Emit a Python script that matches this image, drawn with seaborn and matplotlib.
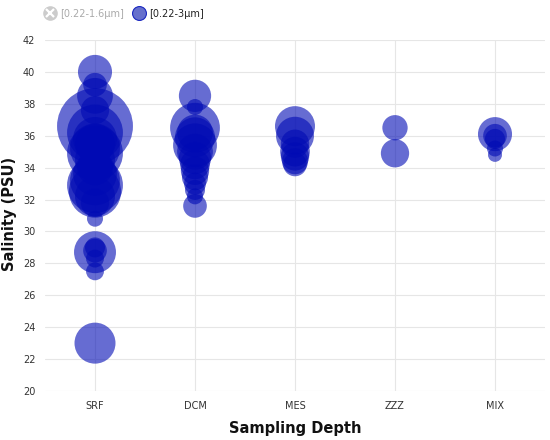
import numpy as np
import pandas as pd
import matplotlib
matplotlib.use("Agg")
import matplotlib.pyplot as plt
from matplotlib.lines import Line2D
from matplotlib.legend_handler import HandlerTuple
import seaborn as sns

categories = ["SRF", "DCM", "MES", "ZZZ", "MIX"]

srf_salinity = [40.0, 39.2, 38.5, 37.6, 36.6, 36.2, 35.8, 35.5, 35.2, 34.9, 34.5, 34.0,
                33.6, 33.2, 32.9, 32.5, 32.2, 31.8, 30.8, 29.0, 28.8, 28.7, 28.3, 27.5, 23.0]
srf_abund = [2.9, 1.4, 3.2, 2.0, 14.4, 7.8, 4.8, 4.0, 6.2, 7.8, 4.0, 3.2,
             4.8, 6.2, 7.8, 6.8, 4.0, 2.0, 0.64, 1.0, 1.4, 4.4, 0.8, 0.8, 4.2]

dcm_salinity = [38.5, 37.8, 36.5, 36.2, 35.9, 35.4, 35.0, 34.6, 34.2, 33.8, 33.4, 33.0, 32.6, 32.2, 31.6]
dcm_abund = [2.6, 0.64, 6.2, 3.2, 4.0, 4.8, 3.2, 2.6, 2.2, 2.0, 1.7, 1.2, 1.0, 0.64, 1.4]

mes_salinity = [36.6, 36.0, 35.5, 35.0, 34.7, 34.4, 34.2]
mes_abund = [4.0, 3.6, 2.0, 2.2, 2.0, 1.7, 1.4]

zzz_salinity = [36.5, 34.9]
zzz_abund = [1.6, 2.0]

mix_salinity = [36.1, 36.0, 35.8, 35.2, 34.8]
mix_abund = [2.9, 1.4, 1.0, 0.64, 0.49]

groups = [srf_salinity, dcm_salinity, mes_salinity, zzz_salinity, mix_salinity]
abunds = [srf_abund, dcm_abund, mes_abund, zzz_abund, mix_abund]

rows = []
for cat, sal, ab in zip(categories, groups, abunds):
    for s, a in zip(sal, ab):
        rows.append({"depth": cat, "salinity": s, "abund": a})
df = pd.DataFrame(rows)
df["depth"] = pd.Categorical(df["depth"], categories=categories, ordered=True)
df["xpos"] = df["depth"].cat.codes

sns.set_theme(style="white")
plt.rcParams["font.family"] = ["DejaVu Sans"]

fig = plt.figure(figsize=(5.5, 4.4), dpi=100)
ax = fig.add_axes([45/550, (440-391)/440, 500/550, 351/440])

# marker area in pt^2 proportional to abundance: r_px = 10*sqrt(abund)
k = (2 * 10 * 72 / 100) ** 2  # pt^2 per unit abundance
vmax = df["abund"].max()
bubble = "#000ab4"
sns.scatterplot(data=df, x="xpos", y="salinity", size="abund",
                size_norm=(0, vmax), sizes=(0, k * vmax),
                color=bubble, alpha=0.6, linewidth=0, legend=False,
                ax=ax, clip_on=False, zorder=3)

ax.set_xlim(-0.5, 4.5)
ax.set_ylim(20, 42)
ax.set_xticks(range(len(categories)))
ax.set_xticklabels(categories)
ax.set_yticks(np.arange(20, 43, 2))
ax.grid(True, color="#e6e6e6", linewidth=0.8)
ax.set_axisbelow(True)
for sp in ax.spines.values():
    sp.set_visible(False)
ax.tick_params(axis="both", length=0, labelsize=7, colors="#333333")
ax.tick_params(axis="y", pad=7)
ax.tick_params(axis="x", pad=7)
ax.set_xlabel("Sampling Depth", fontsize=10.5, fontweight="bold", color="#111111")
ax.set_ylabel("Salinity (PSU)", fontsize=10.5, fontweight="bold", color="#111111")
ax.yaxis.set_label_coords(-0.056, 0.504)
ax.xaxis.set_label_coords(0.5, -0.085)

h_hidden = (Line2D([], [], marker="o", linestyle="none", markersize=9.5,
                   markerfacecolor="#cccccc", markeredgecolor="#cccccc"),
            Line2D([], [], marker="x", linestyle="none", markersize=5.5,
                   markeredgecolor="white", markeredgewidth=1.6))
h_shown = Line2D([], [], marker="o", linestyle="none", markersize=10,
                 markerfacecolor="#6670cc", markeredgecolor="#1a28c0", markeredgewidth=0.8)
leg = fig.legend([h_hidden, h_shown], ["[0.22-1.6μm]", "[0.22-3μm]"],
                 handler_map={tuple: HandlerTuple(ndivide=1, pad=0)},
                 loc="upper left", bbox_to_anchor=(34/550, 1.0), ncol=2,
                 frameon=False, fontsize=7, handletextpad=0.4, columnspacing=0.8,
                 handlelength=1.4)
texts = leg.get_texts()
texts[0].set_color("#aaaaaa")
texts[1].set_color("#222222")

fig.savefig("out.png", dpi=100)
